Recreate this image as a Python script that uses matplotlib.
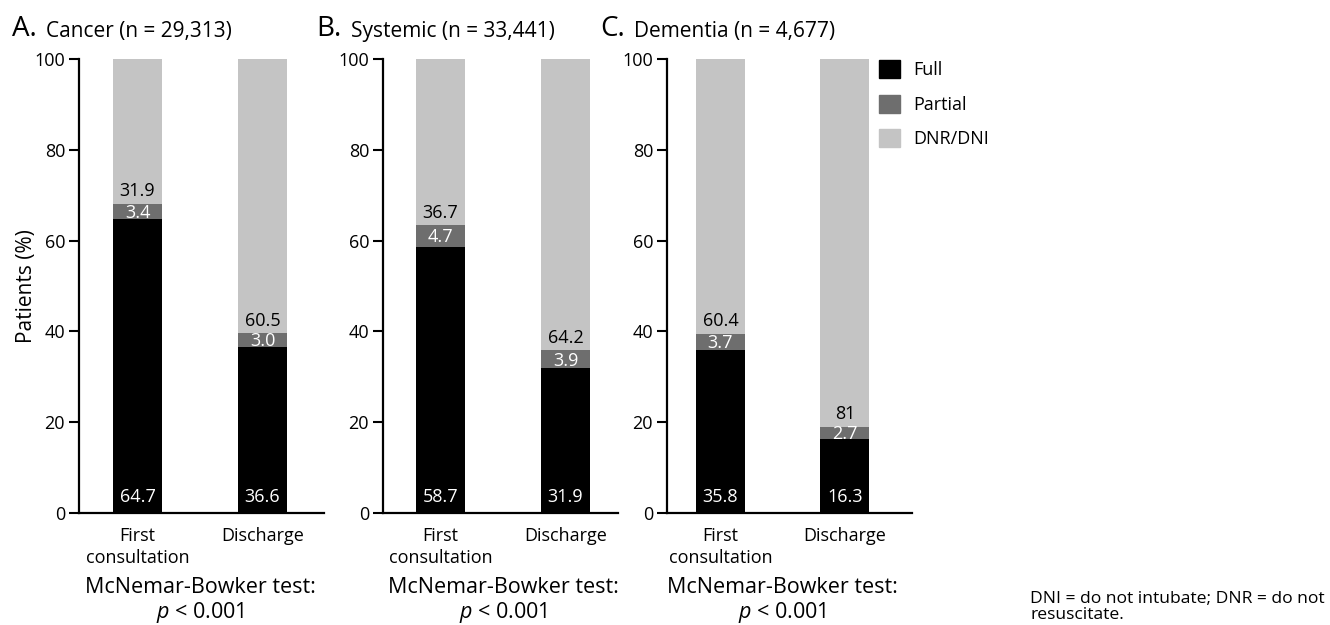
import numpy as np
import matplotlib
matplotlib.use("Agg")
import matplotlib.pyplot as plt
from matplotlib.patches import Patch

plt.rcParams["font.family"] = ["Open Sans", "DejaVu Sans"]
plt.rcParams["mathtext.fontset"] = "custom"
plt.rcParams["mathtext.it"] = "Open Sans:italic"
plt.rcParams["mathtext.rm"] = "Open Sans"

# Daten
panel_letters = ["A.", "B.", "C."]
panel_titles = ["Cancer (n = 29,313)", "Systemic (n = 33,441)", "Dementia (n = 4,677)"]
timepoints = ["First\nconsultation", "Discharge"]
full_pct = [[64.7, 36.6], [58.7, 31.9], [35.8, 16.3]]
partial_pct = [[3.4, 3.0], [4.7, 3.9], [3.7, 2.7]]
dnr_pct = [[31.9, 60.5], [36.7, 64.2], [60.4, 81.0]]
full_text = [["64.7", "36.6"], ["58.7", "31.9"], ["35.8", "16.3"]]
partial_text = [["3.4", "3.0"], ["4.7", "3.9"], ["3.7", "2.7"]]
dnr_text = [["31.9", "60.5"], ["36.7", "64.2"], ["60.4", "81"]]
test_text = "McNemar-Bowker test:\n$p$ < 0.001"
yticks = [0, 20, 40, 60, 80, 100]

c_full = "#000000"
c_partial = "#6e6e6e"
c_dnr = "#c4c4c4"

W, H = 1330, 625
fig = plt.figure(figsize=(W / 100, H / 100), dpi=100)

# Achsen in Pixeln: (links, rechts), xlim
ax_px = [(79, 324), (383, 618), (667, 912)]
ax_xlim = [(-0.468, 1.492), (-0.46, 1.42), (-0.43, 1.54)]
y_bot, y_top = 513, 59

axes = []
for i in range(3):
    l, r = ax_px[i]
    ax = fig.add_axes([l / W, 1 - y_bot / H, (r - l) / W, (y_bot - y_top) / H])
    axes.append(ax)
    x = np.arange(2)
    f = np.array(full_pct[i])
    p = np.array(partial_pct[i])
    d = np.array(dnr_pct[i])
    bw = 0.392
    ax.bar(x, f, bw, color=c_full)
    ax.bar(x, p, bw, bottom=f, color=c_partial)
    ax.bar(x, d, bw, bottom=f + p, color=c_dnr)
    for j in range(2):
        ax.text(x[j], 3.5, full_text[i][j], ha="center", va="center",
                color="white", fontsize=13)
        ax.text(x[j], f[j] + p[j] / 2 - 0.3, partial_text[i][j], ha="center",
                va="center", color="white", fontsize=13)
        ax.text(x[j], f[j] + p[j] + 0.8, dnr_text[i][j], ha="center",
                va="bottom", color="black", fontsize=13)

    ax.set_xlim(*ax_xlim[i])
    ax.set_ylim(0, 100)
    ax.set_yticks(yticks)
    ax.set_xticks(x)
    ax.set_xticklabels(timepoints, fontsize=13, linespacing=1.3)
    ax.tick_params(axis="x", length=0, pad=10)
    ax.tick_params(axis="y", length=7, width=1.5, labelsize=13, pad=3)
    for s in ["top", "right"]:
        ax.spines[s].set_visible(False)
    for s in ["left", "bottom"]:
        ax.spines[s].set_linewidth(1.6)

    ax.text(0.5, -0.142, test_text, transform=ax.get_xaxis_transform(),
            ha="center", va="top", fontsize=15.5, linespacing=1.1)

    # Titel
    tx = (l - 67) / W
    t1 = fig.text(tx, 1 - 36 / H, panel_letters[i], fontsize=20,
                  ha="left", va="baseline")
    ax.annotate(panel_titles[i], xy=(1, 0), xycoords=t1, xytext=(7, 1),
                textcoords="offset points", fontsize=15, ha="left", va="bottom",
                annotation_clip=False)

axes[0].set_ylabel("Patients (%)", fontsize=15, labelpad=-2)

handles = [Patch(color=c_full, label="Full"),
           Patch(color=c_partial, label="Partial"),
           Patch(color=c_dnr, label="DNR/DNI")]
fig.legend(handles=handles, loc="upper left", bbox_to_anchor=(872 / W, 1 - 53 / H),
           frameon=False, fontsize=13, handlelength=1.15, handleheight=1.15,
           labelspacing=0.85, handletextpad=0.75, borderaxespad=0)

fig.text(1030 / W, 1 - 591 / H, "DNI = do not intubate; DNR = do not\nresuscitate.",
         fontsize=12.6, ha="left", va="top", linespacing=1.0)

fig.savefig("out.png", dpi=100)
